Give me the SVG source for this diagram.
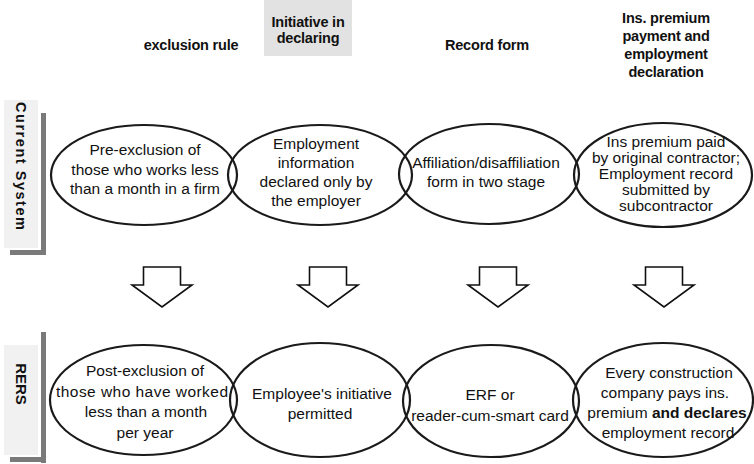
<svg xmlns="http://www.w3.org/2000/svg" xmlns:xlink="http://www.w3.org/1999/xlink" width="754" height="464" viewBox="0 0 754 464">
<style>
.bg{fill:#fff}
.oval{fill:none;stroke:#1a1a1a;stroke-width:2.2}
.t{font-family:"Liberation Sans",Arial,sans-serif;font-size:15.5px;fill:#111;text-anchor:middle}
.h{font-family:"Liberation Sans",Arial,sans-serif;font-size:14.5px;font-weight:bold;fill:#111;text-anchor:middle;letter-spacing:-0.2px}
.side{font-family:"Liberation Sans",Arial,sans-serif;font-weight:bold;fill:#111;text-anchor:middle}
.bar{fill:#7a7a7a}
.haze{fill:#f1f1f1}
.shade{fill:#e2e2e2}
.arrow{fill:#fff;stroke:#111;stroke-width:1.6;stroke-linejoin:miter}
</style>
<defs>
<path id="blockArrow" d="M-18.5,0 H18.5 V18 H30 L0,40 L-30,18 H-18.5 Z"/>
</defs>
<rect class="bg" x="0" y="0" width="754" height="464"/>

<g id="headers">
<rect class="shade" x="264" y="0" width="88" height="56"/>
<text class="h" x="191" y="50">exclusion rule</text>
<text class="h" x="308" y="27">Initiative in</text>
<text class="h" x="308" y="43">declaring</text>
<text class="h" x="487" y="50">Record form</text>
<text class="h" x="666" y="23">Ins. premium</text>
<text class="h" x="666" y="41">payment and</text>
<text class="h" x="666" y="59">employment</text>
<text class="h" x="666" y="77">declaration</text>
</g>

<g id="label-current">
<rect class="haze" x="4" y="100" width="34" height="148"/>
<rect class="bar" x="41" y="113" width="5" height="142"/>
<rect class="bar" x="10" y="250" width="36" height="5"/>
<text class="side" font-size="14.5" transform="translate(16,166) rotate(90)" textLength="128" lengthAdjust="spacing">Current System</text>
</g>

<g id="label-rers">
<rect class="haze" x="4" y="345" width="34" height="110"/>
<rect class="bar" x="41" y="332" width="5" height="131"/>
<rect class="bar" x="10" y="457" width="36" height="5"/>
<text class="side" font-size="15" transform="translate(16,384) rotate(90)">RERS</text>
</g>

<g id="cur-exclusion">
<ellipse class="oval" cx="144" cy="175" rx="93" ry="50"/>
<text class="t" x="145" y="155">Pre-exclusion of</text>
<text class="t" x="145" y="174.5">those who works less</text>
<text class="t" x="145" y="194">than a month in a firm</text>
</g>
<g id="cur-initiative">
<ellipse class="oval" cx="320" cy="175" rx="92" ry="50"/>
<text class="t" x="316" y="149">Employment</text>
<text class="t" x="316" y="168">information</text>
<text class="t" x="316" y="187">declared only by</text>
<text class="t" x="316" y="206">the employer</text>
</g>
<g id="cur-record">
<ellipse class="oval" cx="489" cy="174" rx="90" ry="50"/>
<text class="t" x="486" y="168">Affiliation/disaffiliation</text>
<text class="t" x="486" y="187">form in two stage</text>
</g>
<g id="cur-premium">
<ellipse class="oval" cx="663" cy="175" rx="89" ry="52"/>
<text class="t" x="666" y="147">Ins premium paid</text>
<text class="t" x="666" y="163">by original contractor;</text>
<text class="t" x="666" y="179">Employment record</text>
<text class="t" x="666" y="195">submitted by</text>
<text class="t" x="666" y="211">subcontractor</text>
</g>

<g id="connectors">
<use xlink:href="#blockArrow" href="#blockArrow" class="arrow" transform="translate(162,267)"/>
<use xlink:href="#blockArrow" href="#blockArrow" class="arrow" transform="translate(328,267)"/>
<use xlink:href="#blockArrow" href="#blockArrow" class="arrow" transform="translate(498,267)"/>
<use xlink:href="#blockArrow" href="#blockArrow" class="arrow" transform="translate(664,267)"/>
</g>

<g id="rers-exclusion">
<ellipse class="oval" cx="143.5" cy="400" rx="93.5" ry="55"/>
<text class="t" x="145" y="376">Post-exclusion of</text>
<text class="t" x="142" y="397" textLength="172" lengthAdjust="spacing">those who have worked</text>
<text class="t" x="146" y="417">less than a month</text>
<text class="t" x="145" y="438">per year</text>
</g>
<g id="rers-initiative">
<ellipse class="oval" cx="320" cy="400" rx="90" ry="57"/>
<text class="t" x="322" y="399">Employee's initiative</text>
<text class="t" x="320" y="419">permitted</text>
</g>
<g id="rers-record">
<ellipse class="oval" cx="491" cy="401" rx="88" ry="56"/>
<text class="t" x="490" y="400">ERF or</text>
<text class="t" x="490" y="421">reader-cum-smart card</text>
</g>
<g id="rers-premium">
<ellipse class="oval" cx="663" cy="400" rx="90" ry="57"/>
<text class="t" x="669" y="378">Every construction</text>
<text class="t" x="665" y="398">company pays ins.</text>
<text class="t" x="667" y="418">premium <tspan font-weight="bold">and declares</tspan></text>
<text class="t" x="668" y="438">employment record</text>
</g>
</svg>
